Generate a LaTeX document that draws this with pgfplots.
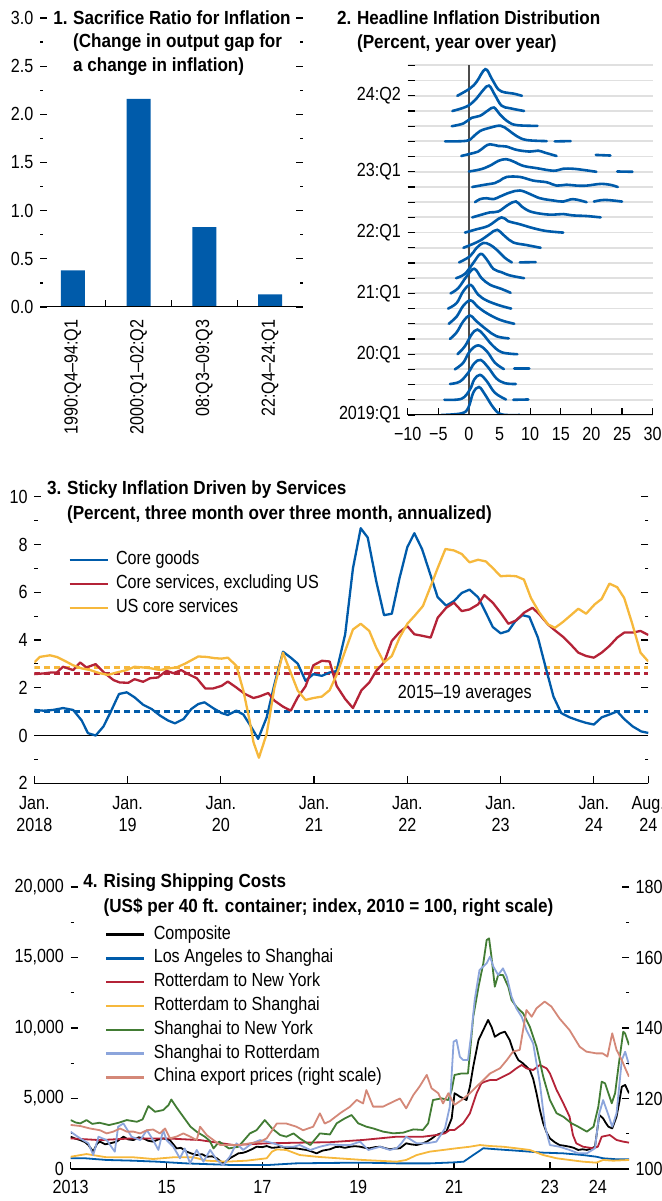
\documentclass[border=0pt]{standalone}
\usepackage{fontspec}
\setmainfont{Liberation Sans}[FakeStretch=0.85]
\newfontfamily\tfont{Liberation Sans}[FakeStretch=0.9]
\usepackage{pgfplots}
\pgfplotsset{compat=1.18}
\definecolor{cblue}{RGB}{0,91,170}
\definecolor{cred}{RGB}{180,35,55}
\definecolor{cyel}{RGB}{246,184,60}
\definecolor{cgreen}{RGB}{66,124,52}
\definecolor{clblue}{RGB}{140,165,220}
\definecolor{cpink}{RGB}{212,136,120}
\pgfplotsset{
  base/.style={scale only axis, anchor=south west, axis line style={draw=none},
    tick align=inside, major tick length=3.5pt, minor tick length=1.6pt,
    tick style={black, line width=0.6pt}, scaled ticks=false,
    /pgf/number format/assume math mode=true,
    tick label style={font=\fontsize{9.5}{11}\selectfont}},
  ridge/.style={cblue, line width=1.3pt, smooth, tension=0.6, line cap=round},
  leg/.style={legend cell align=left,
    legend image code/.code={\draw[##1, line width=1.2pt] (0pt,0pt) -- (19pt,0pt); \path (#1,0pt);},
    legend style={draw=none, fill=none, anchor=north west, inner sep=0pt, outer sep=0pt,
      row sep=0pt, nodes={inner sep=0pt, text height=8.2pt, text depth=3.7pt, font=\fontsize{9.5}{11}\selectfont}}},
}
\begin{document}
\fontsize{9.5pt}{11.5pt}\selectfont
\begin{tikzpicture}
\useasboundingbox (0,0) rectangle (331pt,600.5pt);
% ---------------- Panel 1
\begin{axis}[base, at={(20pt,447pt)}, width=131.5pt, height=144.5pt,
  xmin=-0.5, xmax=3.5, ymin=0, ymax=3,
  ytick={0,0.5,...,3}, yticklabels={0.0,0.5,1.0,1.5,2.0,2.5,3.0},
  minor ytick={0.25,0.75,...,2.75}, ytick pos=both, yticklabel pos=left,
  xtick={0.5,1.5,2.5}, xticklabels={,,}, xtick pos=bottom, xticklabel shift=3pt,
  extra x ticks={0,1,2,3},
  extra x tick labels={1990:Q4–94:Q1,2000:Q1–02:Q2,08:Q3–09:Q3,22:Q4–24:Q1},
  extra x tick style={major tick length=0pt, xticklabel style={rotate=90, anchor=east}},
]
\addplot[ybar, bar width=12pt, fill=cblue, draw=none] coordinates {(0,0.38)(1,2.16)(2,0.83)(3,0.13)};
\draw[black, line width=0.7pt] (rel axis cs:0,0) -- (rel axis cs:1,0);
\end{axis}
\node[anchor=base west, inner sep=0pt, font=\tfont\bfseries] at (26.5pt,588.25pt) {1.};
\node[anchor=base west, inner sep=0pt, font=\tfont\bfseries] at (36.35pt,588.25pt) {Sacrifice Ratio for Inflation};
\node[anchor=base west, inner sep=0pt, font=\tfont\bfseries] at (36.35pt,576.5pt) {(Change in output gap for};
\node[anchor=base west, inner sep=0pt, font=\tfont\bfseries] at (36.35pt,564.75pt) {a change in inflation)};
% ---------------- Panel 2
\begin{axis}[base, at={(203.85pt,393pt)}, width=122.5pt, height=174.8pt,
  xmin=-10, xmax=30, ymin=0, ymax=23,
  xtick={-10,-5,...,30}, xticklabels={−10,−5,0,5,10,15,20,25,30}, xtick pos=bottom, xticklabel shift=3pt,
  ytick={0,...,23}, yticklabels={2019:Q1,,,,20:Q1,,,,21:Q1,,,,22:Q1,,,,23:Q1,,,,,24:Q2,,},
  ytick pos=left, ymajorgrids, grid style={black!12, line width=0.9pt},
]
\draw[black!70, line width=0.8pt] (axis cs:0,0) -- (axis cs:0,23);
\addplot[ridge] coordinates {(-4.5,0)(-1.2,0.11)(-0.1,0.48)(0.7,1.47)(1.63,1.84)(2.6,1.36)(4.0,0.48)(5.33,0.04)(8.3,0)};
\addplot[ridge] coordinates {(-4.0,1)(-1.2,1.07)(0.16,1.68)(0.87,2.34)(1.8,2.64)(2.9,2.23)(4.24,1.46)(6.04,1.02)};
\addplot[ridge] coordinates {(7.24,1)(9.7,1.02)};
\addplot[ridge] coordinates {(-3.1,2.04)(-1.47,2.2)(-0.1,2.79)(0.87,3.4)(1.9,3.62)(3.16,3.12)(4.5,2.4)(5.9,2.09)(7.67,2.04)};
\addplot[ridge] coordinates {(-2.3,3)(-0.93,3.44)(0.16,4.2)(1.5,4.58)(2.9,4.2)(4.24,3.44)(5.7,3.02)};
\addplot[ridge] coordinates {(7.4,3.04)(9.85,3.04)};
\addplot[ridge] coordinates {(-1.85,4)(-0.65,4.53)(0.44,5.3)(1.36,5.62)(2.34,5.3)(3.7,4.64)(5.33,4.13)(7.9,4)};
\addplot[ridge] coordinates {(-3.1,5)(-2.0,5.44)(-0.93,6.16)(0.16,6.54)(1.25,6.16)(2.9,5.61)(4.5,5.18)(6.5,5.04)};
\addplot[ridge] coordinates {(-3.3,6)(-2.0,6.48)(-0.93,7.18)(0.27,7.54)(1.5,7.1)(2.9,6.7)(5.06,6.26)(7.4,6)};
\addplot[ridge] coordinates {(-3.4,7)(-2.0,7.37)(-0.93,8.14)(0.27,8.56)(1.5,7.92)(2.9,7.53)(5.06,7.2)(6.9,7)};
\addplot[ridge] coordinates {(-3.0,8)(-1.74,8.35)(-0.38,9.12)(0.87,9.62)(2.07,9.0)(3.43,8.57)(5.33,8.29)(6.8,8.04)};
\addplot[ridge] coordinates {(-2.1,9)(-0.65,9.29)(0.7,10.0)(1.9,10.6)(2.9,10.23)(4.0,9.61)(5.33,9.39)(6.7,9.18)(9.0,9)};
\addplot[ridge] coordinates {(-1.6,10.04)(0.16,10.44)(1.25,10.99)(2.34,11.32)(3.43,11.2)(4.5,10.88)(5.9,10.33)(7.0,10.04)};
\addplot[ridge] coordinates {(8.3,10.04)(10.9,10.06)};
\addplot[ridge] coordinates {(-0.9,11)(0.7,11.26)(2.07,11.53)(3.43,11.92)(4.6,12.18)(5.9,11.75)(7.24,11.35)(9.4,11.18)(11.7,11)};
\addplot[ridge] coordinates {(-0.65,12)(1.25,12.22)(3.2,12.45)(5.3,13.0)(6.4,12.75)(8.3,12.55)(10.5,12.29)(12.7,12.1)(15.4,12)};
\addplot[ridge] coordinates {(0.54,13)(2.07,13.18)(3.43,13.33)(4.8,13.39)(6.4,13.83)(7.67,14.05)(8.6,13.72)(10.0,13.39)(12.1,13.22)(13.8,13.18)(15.4,13.22)(17.0,13.13)(19.2,13.09)(21.5,13)};
\addplot[ridge] coordinates {(1.0,14)(1.8,14.2)(2.9,14.26)(4.0,14.2)(5.06,14.37)(6.7,14.64)(8.33,14.77)(10.0,14.53)(11.6,14.26)(13.8,14.11)(15.4,14.04)(17.0,14.2)(19.2,14)};
\addplot[ridge] coordinates {(20.4,14.04)(22.2,14.15)(25.0,14.04)};
\addplot[ridge] coordinates {(0.54,15)(2.6,15.15)(4.24,15.26)(5.06,15.42)(6.15,15.66)(8.33,15.66)(10.5,15.42)(12.7,15.31)(14.3,15.09)(15.9,15.15)(17.6,15.09)(19.2,15.09)(21.4,15.2)(23.0,15.15)(24.3,15)};
\addplot[ridge] coordinates {(0,16.02)(2.07,16.18)(3.7,16.46)(4.8,16.72)(6.04,16.83)(7.24,16.68)(8.87,16.39)(11.05,16.24)(13.8,16.07)(15.4,16.2)(17.0,16.2)(18.9,16.11)(20.8,16)};
\addplot[ridge] coordinates {(24.2,16.02)(26.7,16)};
\addplot[ridge] coordinates {(-1.25,17.04)(0.16,17.18)(1.5,17.33)(2.6,17.66)(3.43,17.81)(4.8,17.7)(6.15,17.66)(7.8,17.44)(9.96,17.33)(11.3,17.39)(12.4,17.26)(14.3,17.04)};
\addplot[ridge] coordinates {(20.7,17.11)(23.1,17.07)};
\addplot[ridge] coordinates {(-3.9,18)(-0.4,18.04)(0.7,18.31)(1.8,18.68)(3.43,18.9)(5.17,19.03)(6.42,18.75)(7.78,18.35)(9.4,18.09)(12.7,18.02)};
\addplot[ridge] coordinates {(14.0,18)(16.6,18.02)};
\addplot[ridge] coordinates {(-2.8,19)(-0.9,19.18)(0.44,19.55)(1.8,19.68)(3.16,20.05)(4.08,20.23)(5.06,19.77)(6.4,19.29)(7.8,19.07)(11.2,19.02)};
\addplot[ridge] coordinates {(-2.7,20)(-0.4,20.29)(1.0,20.72)(2.34,21.38)(3.27,21.67)(4.24,21.05)(5.33,20.35)(6.7,20.18)(9.0,20)};
\addplot[ridge] coordinates {(-1.9,21)(0.16,21.48)(1.25,21.92)(2.67,22.75)(3.7,22.14)(4.8,21.42)(5.9,21.22)(7.2,21.15)(8.65,21)};
\draw[black, line width=0.7pt] (rel axis cs:0,0) -- (rel axis cs:1,0);
\end{axis}
\node[anchor=base west, inner sep=0pt, font=\tfont\bfseries] at (168.35pt,588.25pt) {2.};
\node[anchor=base west, inner sep=0pt, font=\tfont\bfseries] at (178.35pt,588.25pt) {Headline Inflation Distribution};
\node[anchor=base west, inner sep=0pt, font=\tfont\bfseries] at (178.35pt,576.25pt) {(Percent, year over year)};
% ---------------- Panel 3
\begin{axis}[base, leg=22.7pt, at={(17.15pt,208.85pt)}, width=307pt, height=143.3pt,
  xmin=0, xmax=79, ymin=-2, ymax=10,
  xtick={0,12,24,36,48,60,72,79},
  xticklabels={{Jan.\\2018},{Jan.\\19},{Jan.\\20},{Jan.\\21},{Jan.\\22},{Jan.\\23},{Jan.\\24},{Aug.\\24}},
  xticklabel style={align=center, font=\fontsize{9.5}{11.2}\selectfont}, xtick pos=bottom, xticklabel shift=3pt,
  ytick={-2,0,...,10}, yticklabels={2,0,2,4,6,8,10}, minor ytick={-1,1,...,9},
  ytick pos=both, yticklabel pos=left,
  legend style={at={(0.0554,0.82)}},
]
\addplot[cblue, line width=1.2pt, dash pattern=on 3pt off 2pt, forget plot] coordinates {(0,1)(79,1)};
\addplot[cred, line width=1.2pt, dash pattern=on 3pt off 2pt, forget plot] coordinates {(0,2.6)(79,2.6)};
\addplot[cyel, line width=1.2pt, dash pattern=on 3pt off 2pt, forget plot] coordinates {(0,2.85)(79,2.85)};
\draw[black, line width=0.6pt] (axis cs:0,0) -- (axis cs:79,0);
\draw[black, line width=0.7pt] (rel axis cs:0,0) -- (rel axis cs:1,0);
\addplot[cblue, line width=1.15pt, line join=round] coordinates {(0,1.07)(1.2,1.04)(2.4,1.07)(3.7,1.15)(5,1.07)(6.1,0.63)(6.9,0.1)(7.9,0)(8.9,0.38)(9.9,1.04)(10.9,1.74)(11.9,1.81)(12.9,1.6)(14,1.29)(15.1,1.11)(16.2,0.83)(17.2,0.63)(18.1,0.51)(19.2,0.69)(20.2,1.11)(21.1,1.32)(21.9,1.39)(23,1.15)(24.1,0.94)(24.9,0.86)(26,1.04)(26.9,0.88)(27.8,0.42)(28.8,-0.14)(29.9,0.76)(30.9,2.15)(32,3.51)(33,3.26)(33.9,3.01)(34.9,2.29)(35.9,2.57)(37,2.5)(38,2.64)(38.9,2.7)(40,4.24)(41,7.0)(42,8.68)(42.9,8.29)(44,6.46)(45,5.04)(46,5.1)(47,6.6)(48,7.89)(48.9,8.47)(49.9,7.8)(50.9,6.8)(51.9,5.79)(53,5.44)(54,5.63)(55,5.97)(56,6.11)(57.1,5.79)(58,5.21)(59,4.54)(60,4.28)(61,4.38)(61.9,4.79)(62.8,5.04)(63.7,4.97)(64.8,4.1)(65.8,2.85)(66.8,1.63)(67.8,0.94)(68.9,0.76)(70,0.63)(71,0.53)(72,0.46)(73,0.76)(74,0.88)(75,1.01)(75.9,0.69)(77,0.38)(78.1,0.17)(79,0.11)};
\addlegendentry{Core goods}
\addplot[cred, line width=1.15pt, line join=round] coordinates {(0,2.57)(1.2,2.6)(2.2,2.64)(2.9,2.64)(3.7,2.88)(5,2.74)(5.9,3.06)(6.7,2.85)(7.9,2.99)(9.1,2.6)(10.2,2.32)(11,2.22)(12.1,2.21)(12.9,2.36)(14,2.25)(14.9,2.4)(15.9,2.43)(17,2.71)(17.9,2.61)(18.9,2.74)(19.8,2.57)(20.9,2.4)(22,1.97)(23,1.97)(24.1,2.08)(24.9,2.26)(26,2.01)(27.1,1.74)(28.2,1.57)(29,1.64)(30.1,1.78)(30.9,1.46)(32,1.21)(33,1.04)(33.9,1.6)(34.9,2.06)(35.9,2.94)(37,3.13)(38,3.1)(38.9,2.08)(40,1.53)(41,1.15)(42.1,1.9)(43.1,2.22)(44,2.71)(45,3.06)(46,3.96)(47,4.33)(48,4.58)(48.9,4.24)(50,4.17)(51,4.1)(51.9,4.93)(53,5.35)(54,5.56)(55,5.21)(56,5.28)(57.1,5.49)(57.9,5.88)(59,5.56)(60,5.14)(61,4.68)(62,4.82)(63,5.14)(64.1,5.35)(65,5.07)(66.1,4.65)(67,4.4)(68,4.14)(69,3.82)(70,3.47)(71,3.33)(72,3.26)(73,3.47)(74,3.75)(75,4.1)(75.9,4.31)(77,4.31)(78,4.38)(79,4.21)};
\addlegendentry{Core services, excluding US}
\addplot[cyel, line width=1.15pt, line join=round] coordinates {(0,3.06)(0.7,3.29)(2,3.36)(2.9,3.29)(3.9,3.13)(5,2.94)(6.1,2.81)(7.2,2.74)(8.4,2.61)(9.5,2.54)(10.6,2.64)(11.9,2.74)(12.9,2.88)(14,2.85)(15.1,2.81)(16.2,2.74)(17.2,2.81)(18.3,2.85)(19.4,3.01)(20.2,3.15)(21.1,3.31)(22.2,3.29)(23.2,3.24)(24.1,3.22)(24.9,3.26)(26,2.92)(26.9,1.88)(27.7,0.63)(28.2,-0.28)(28.9,-0.93)(29.9,0.07)(30.9,2.01)(32,3.47)(32.9,2.71)(33.9,1.88)(34.9,1.49)(35.9,1.57)(37,1.63)(38,1.9)(38.9,2.54)(40,3.54)(41,4.44)(42,4.68)(43.1,4.38)(44,3.68)(45,3.06)(46,3.33)(47,4.1)(48,4.68)(48.9,5.0)(50,5.42)(51,6.25)(51.9,7.01)(52.9,7.81)(54,7.75)(55,7.6)(56,7.25)(57.1,7.36)(58.1,7.29)(59,7.01)(60,6.67)(61,6.69)(62,6.67)(63,6.53)(63.9,5.76)(65,5.14)(66.1,4.65)(67,4.51)(68,4.75)(68.9,5.0)(70,5.31)(71,5.1)(72.1,5.49)(73,5.72)(74,6.36)(75,6.21)(75.9,5.76)(76.9,4.72)(78,3.47)(79,3.1)};
\addlegendentry{US core services}
\node[font=\fontsize{9.5}{11}\selectfont] at (axis cs:55.4,1.74) {2015–19 averages};
\end{axis}
\node[anchor=base west, inner sep=0pt, font=\tfont\bfseries] at (23.35pt,353.1pt) {3.};
\node[anchor=base west, inner sep=0pt, font=\tfont\bfseries] at (33.35pt,353.1pt) {Sticky Inflation Driven by Services};
\node[anchor=base west, inner sep=0pt, font=\tfont\bfseries] at (33.35pt,340.9pt) {(Percent, three month over three month, annualized)};
% ---------------- Panel 4
\begin{axis}[base, leg=23.35pt, at={(35.35pt,16pt)}, width=279.15pt, height=141pt,
  xmin=2013, xmax=2024.65, ymin=0, ymax=20000,
  xtick={2013,2015,2017,2019,2021,2023,2024}, xticklabels={2013,15,17,19,21,23,24}, xtick pos=bottom, xticklabel shift=2.5pt,
  ytick={0,5000,...,20000}, yticklabels={0,{5,000},{10,000},{15,000},{20,000}},
  minor ytick={2500,7500,12500,17500}, ytick pos=left,
  legend style={at={(0.0614,0.8734)}},
  every axis plot/.append style={line width=0.9pt, line join=round},
]
\draw[black, line width=0.7pt] (rel axis cs:0,0) -- (rel axis cs:1,0);
\addplot[black] coordinates {(2013.0,2290)(2013.1,2150)(2013.2,2050)(2013.3,1900)(2013.37,1700)(2013.47,1230)(2013.55,1800)(2013.61,1940)(2013.72,1750)(2013.82,1820)(2013.96,1940)(2014.1,2290)(2014.2,2100)(2014.31,2050)(2014.42,2250)(2014.52,2170)(2014.62,2000)(2014.72,1940)(2014.83,2100)(2014.93,2170)(2015.07,2050)(2015.21,1460)(2015.3,1500)(2015.42,1230)(2015.52,1100)(2015.63,990)(2015.74,1050)(2015.84,870)(2015.95,900)(2016.05,760)(2016.18,400)(2016.25,550)(2016.32,760)(2016.42,950)(2016.5,1110)(2016.6,1150)(2016.67,1230)(2016.78,1400)(2016.88,1580)(2017.0,1550)(2017.09,1630)(2017.2,1500)(2017.3,1530)(2017.4,1600)(2017.5,1460)(2017.6,1500)(2017.71,1460)(2017.82,1400)(2017.92,1350)(2018.02,1250)(2018.13,1110)(2018.25,1300)(2018.41,1400)(2018.52,1550)(2018.62,1580)(2018.72,1500)(2018.83,1580)(2018.93,1620)(2019.04,1580)(2019.14,1500)(2019.24,1470)(2019.35,1550)(2019.46,1580)(2019.56,1480)(2019.66,1400)(2019.76,1450)(2019.87,1470)(2020.0,1820)(2020.1,1750)(2020.22,1700)(2020.33,1800)(2020.43,1940)(2020.53,2150)(2020.63,2410)(2020.74,2550)(2020.84,2650)(2020.95,3590)(2021.01,5370)(2021.07,5250)(2021.12,5130)(2021.2,5000)(2021.26,4890)(2021.33,5840)(2021.4,7260)(2021.51,9150)(2021.61,9860)(2021.71,10570)(2021.78,10090)(2021.85,9380)(2021.96,9620)(2022.06,9740)(2022.16,9150)(2022.23,8440)(2022.34,7730)(2022.44,7490)(2022.58,7020)(2022.65,6400)(2022.72,5370)(2022.79,4200)(2022.86,3240)(2022.93,2600)(2023.0,2170)(2023.1,1900)(2023.2,1700)(2023.3,1650)(2023.41,1580)(2023.5,1500)(2023.59,1350)(2023.68,1400)(2023.77,1350)(2023.86,1450)(2023.94,1580)(2024.03,3830)(2024.11,3590)(2024.16,3300)(2024.22,3000)(2024.3,2880)(2024.39,3710)(2024.45,4800)(2024.5,5840)(2024.57,5960)(2024.65,5370)};
\addlegendentry{Composite}
\addplot[cblue] coordinates {(2013,760)(2013.3,760)(2013.75,640)(2014.3,590)(2014.8,520)(2015.4,400)(2015.8,350)(2016.4,280)(2017.1,280)(2017.7,400)(2018.4,430)(2019.1,450)(2019.8,400)(2020.5,400)(2021.0,470)(2021.2,520)(2021.4,990)(2021.61,1470)(2021.88,1400)(2022.3,1300)(2022.58,1230)(2022.86,1160)(2023.28,1110)(2023.69,990)(2023.97,870)(2024.11,760)(2024.39,690)(2024.65,690)};
\addlegendentry{Los Angeles to Shanghai}
\addplot[cred] coordinates {(2013,2170)(2013.6,2050)(2014.3,2170)(2015,2170)(2015.7,2050)(2016.4,1700)(2017.1,1820)(2017.8,1870)(2018.4,1900)(2019.1,2060)(2019.8,2290)(2020.35,2290)(2020.63,2410)(2020.81,2530)(2020.91,2770)(2021.01,2770)(2021.19,3240)(2021.33,3950)(2021.47,5370)(2021.57,6080)(2021.64,6190)(2021.75,6310)(2021.88,6310)(2022.02,6550)(2022.16,6780)(2022.3,7140)(2022.41,7380)(2022.51,7140)(2022.65,7020)(2022.79,7380)(2022.93,7140)(2023.0,6780)(2023.14,5600)(2023.28,4660)(2023.41,3710)(2023.48,2410)(2023.55,1820)(2023.69,1580)(2023.9,1470)(2024.0,1580)(2024.08,2290)(2024.25,2410)(2024.39,2060)(2024.53,1940)(2024.65,1870)};
\addlegendentry{Rotterdam to New York}
\addplot[cyel] coordinates {(2013,870)(2013.33,1060)(2013.75,830)(2014.31,830)(2014.72,710)(2015.14,830)(2015.56,830)(2015.84,590)(2016.25,520)(2016.67,590)(2017.09,760)(2017.2,1230)(2017.3,1390)(2017.5,1350)(2017.78,990)(2018.13,870)(2018.41,800)(2019.1,640)(2019.8,520)(2020.0,640)(2020.22,990)(2020.49,1230)(2020.77,1350)(2021.05,1470)(2021.33,1580)(2021.54,1700)(2021.75,1630)(2022.02,1580)(2022.3,1470)(2022.58,1350)(2022.86,990)(2023.14,760)(2023.41,640)(2023.69,520)(2023.97,450)(2024.11,640)(2024.32,590)(2024.65,640)};
\addlegendentry{Rotterdam to Shanghai}
\addplot[cgreen] coordinates {(2013.0,3470)(2013.1,3300)(2013.2,3233)(2013.33,3470)(2013.45,3200)(2013.6,3280)(2013.8,3115)(2014.0,3280)(2014.17,3470)(2014.38,3350)(2014.5,3516)(2014.62,4460)(2014.76,4060)(2014.93,4180)(2015.04,4530)(2015.1,4930)(2015.2,4410)(2015.35,3700)(2015.5,3000)(2015.63,2640)(2015.8,2290)(2015.9,2000)(2015.98,1460)(2016.1,1940)(2016.3,1460)(2016.5,1580)(2016.74,2525)(2016.88,2760)(2017.05,3470)(2017.2,2880)(2017.37,2410)(2017.5,2290)(2017.65,2525)(2017.78,2170)(2018.0,1700)(2018.2,2525)(2018.41,2450)(2018.55,3240)(2018.72,3590)(2018.86,3830)(2019.0,3240)(2019.17,3000)(2019.31,2880)(2019.52,2650)(2019.73,2530)(2019.94,2580)(2020.15,2810)(2020.35,2770)(2020.46,3240)(2020.56,4890)(2020.74,5010)(2020.88,4890)(2020.95,5600)(2021.01,6670)(2021.16,6780)(2021.29,6780)(2021.33,8200)(2021.40,10800)(2021.51,12930)(2021.61,14590)(2021.68,16240)(2021.73,16360)(2021.78,15060)(2021.85,12930)(2021.92,13760)(2022.02,13760)(2022.13,12930)(2022.2,11980)(2022.3,11510)(2022.44,11040)(2022.58,10090)(2022.72,8680)(2022.86,6550)(2023.0,4890)(2023.14,3950)(2023.28,3710)(2023.45,3240)(2023.59,3000)(2023.77,2650)(2023.91,3000)(2024.01,4420)(2024.08,6190)(2024.15,6080)(2024.22,5370)(2024.29,4660)(2024.36,5370)(2024.43,7260)(2024.53,9740)(2024.57,9600)(2024.65,8790)};
\addlegendentry{Shanghai to New York}
\addplot[clblue] coordinates {(2013.0,2640)(2013.1,2400)(2013.2,2170)(2013.37,1820)(2013.47,990)(2013.58,2290)(2013.75,2050)(2013.92,1230)(2013.99,3000)(2014.1,3230)(2014.27,2290)(2014.45,2050)(2014.59,2760)(2014.72,2050)(2014.83,1350)(2014.93,2760)(2015.0,2050)(2015.14,1580)(2015.28,760)(2015.38,1460)(2015.49,400)(2015.63,1350)(2015.77,520)(2015.91,1350)(2016.05,640)(2016.18,280)(2016.32,870)(2016.46,1820)(2016.6,1350)(2016.78,1820)(2016.95,2050)(2017.09,1940)(2017.23,1820)(2017.44,1580)(2017.65,1580)(2017.78,1700)(2018.0,1350)(2018.2,1580)(2018.41,1750)(2018.62,1700)(2018.83,1700)(2019.04,1940)(2019.21,1350)(2019.46,1580)(2019.66,1350)(2019.8,1470)(2019.9,1820)(2020.0,2290)(2020.22,1820)(2020.43,1820)(2020.63,1940)(2020.81,2880)(2020.91,4420)(2020.99,9030)(2021.05,9150)(2021.12,7970)(2021.19,7730)(2021.29,7730)(2021.36,9620)(2021.43,11990)(2021.53,14110)(2021.68,14590)(2021.75,15060)(2021.82,14350)(2021.92,13760)(2022.02,14230)(2022.1,13640)(2022.2,12220)(2022.3,11390)(2022.41,10800)(2022.51,9860)(2022.65,8910)(2022.79,6080)(2022.9,3000)(2023.0,1700)(2023.2,1580)(2023.41,1350)(2023.59,1110)(2023.77,1110)(2023.94,1470)(2024.03,3950)(2024.11,4890)(2024.22,3830)(2024.3,3000)(2024.39,3950)(2024.5,7730)(2024.57,8320)(2024.65,7380)};
\addlegendentry{Shanghai to Rotterdam}
\addlegendimage{color=cpink}
\addlegendentry{China export prices (right scale)}
\end{axis}
\begin{axis}[base, at={(35.35pt,16pt)}, width=279.15pt, height=141pt,
  xmin=2013, xmax=2024.65, ymin=100, ymax=180, xtick=\empty,
  ytick={100,120,...,180}, minor ytick={110,130,150,170}, ytick pos=right, yticklabel pos=right,
]
\addplot[cpink, line width=0.9pt, line join=round] coordinates {(2013.0,112.5)(2013.2,112.2)(2013.4,111.5)(2013.61,111.0)(2013.75,110.1)(2013.89,110.6)(2014.03,111.5)(2014.17,110.6)(2014.31,110.6)(2014.45,110.1)(2014.59,111.0)(2014.72,111.2)(2014.86,110.1)(2014.97,111.5)(2015.07,108.7)(2015.21,109.2)(2015.35,110.1)(2015.49,109.2)(2015.63,108.2)(2015.7,112.0)(2015.84,109.6)(2015.98,108.2)(2016.12,106.8)(2016.32,106.8)(2016.53,106.8)(2016.74,107.3)(2016.95,107.7)(2017.09,108.7)(2017.3,112.9)(2017.5,112.9)(2017.71,112.0)(2017.85,111.0)(2018.06,112.0)(2018.2,115.8)(2018.3,112.9)(2018.41,113.6)(2018.62,115.8)(2018.83,117.7)(2018.97,119.6)(2019.1,118.6)(2019.17,122.4)(2019.31,117.7)(2019.52,117.7)(2019.73,119.1)(2019.87,120.0)(2020.0,117.2)(2020.15,121.0)(2020.28,123.4)(2020.43,126.7)(2020.53,122.9)(2020.67,121.5)(2020.77,118.6)(2020.88,121.5)(2021.01,118.2)(2021.16,119.6)(2021.33,121.5)(2021.47,123.4)(2021.61,125.2)(2021.75,127.1)(2021.96,128.6)(2022.1,130.9)(2022.23,133.3)(2022.37,133.8)(2022.51,145.1)(2022.62,143.2)(2022.72,145.6)(2022.89,147.5)(2023.03,146.1)(2023.2,142.7)(2023.41,139.4)(2023.62,134.7)(2023.76,133.3)(2023.97,132.8)(2024.1,132.8)(2024.2,131.9)(2024.3,138.5)(2024.39,133.8)(2024.5,130.9)(2024.57,128.6)(2024.65,126.2)};
\end{axis}
\node[anchor=base west, inner sep=0pt, font=\tfont\bfseries] at (41.5pt,156.75pt) {4.};
\node[anchor=base west, inner sep=0pt, font=\tfont\bfseries] at (51.65pt,156.75pt) {Rising Shipping Costs};
\node[anchor=base west, inner sep=0pt, font=\tfont\bfseries] at (51.65pt,144.4pt) {(US\$ per 40 ft. container; index, 2010 = 100, right scale)};
\end{tikzpicture}
\end{document}
